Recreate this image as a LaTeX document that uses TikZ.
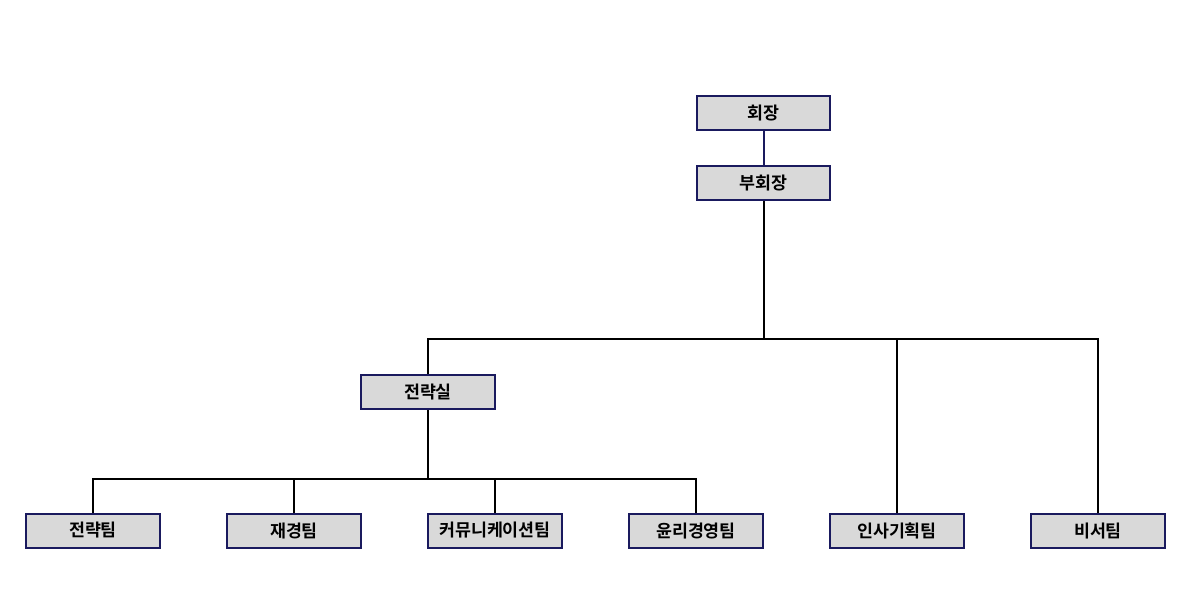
\documentclass[tikz,border=0pt]{standalone}
\usepackage{fontspec}
\newfontfamily\kr{Noto Sans CJK KR}[BoldFont={* Bold}]
\definecolor{navy}{HTML}{1A1A5E}
\definecolor{boxfill}{HTML}{D9D9D9}
\begin{document}
\begin{tikzpicture}[x=0.75pt,y=-0.75pt,
  box/.style={draw=navy,line width=1.5pt,fill=boxfill,minimum width=100pt,minimum height=25.5pt,inner sep=0pt,font=\kr\bfseries\fontsize{13pt}{15pt}\selectfont},
  conn/.style={draw=black,line width=1.5pt}]
\path[use as bounding box] (0,0) rectangle (1199,608);
\node[box] (a) at (763.5,113) {회장};
\node[box] (b) at (763.5,183) {부회장};
\node[box] (c) at (428,392) {전략실};
\node[box] (d1) at (93,530.5) {전략팀};
\node[box] (d2) at (294,530.5) {재경팀};
\node[box] (d3) at (495,530.5) {커뮤니케이션팀};
\node[box] (d4) at (696,530.5) {윤리경영팀};
\node[box] (e) at (897,530.5) {인사기획팀};
\node[box] (f) at (1098,530.5) {비서팀};
\draw[draw=navy,line width=1.5pt] (a) -- (b);
\coordinate (bus1) at (763.5,339);
\coordinate (bus2) at (428,479);
\draw[conn] (b) -- (bus1);
\draw[conn] (bus1) -| (c);
\draw[conn] (bus1) -| (e);
\draw[conn] (bus1) -| (f);
\draw[conn] (c) -- (bus2);
\foreach \n in {d1,d2,d3,d4} \draw[conn] (bus2) -| (\n);
\end{tikzpicture}
\end{document}
